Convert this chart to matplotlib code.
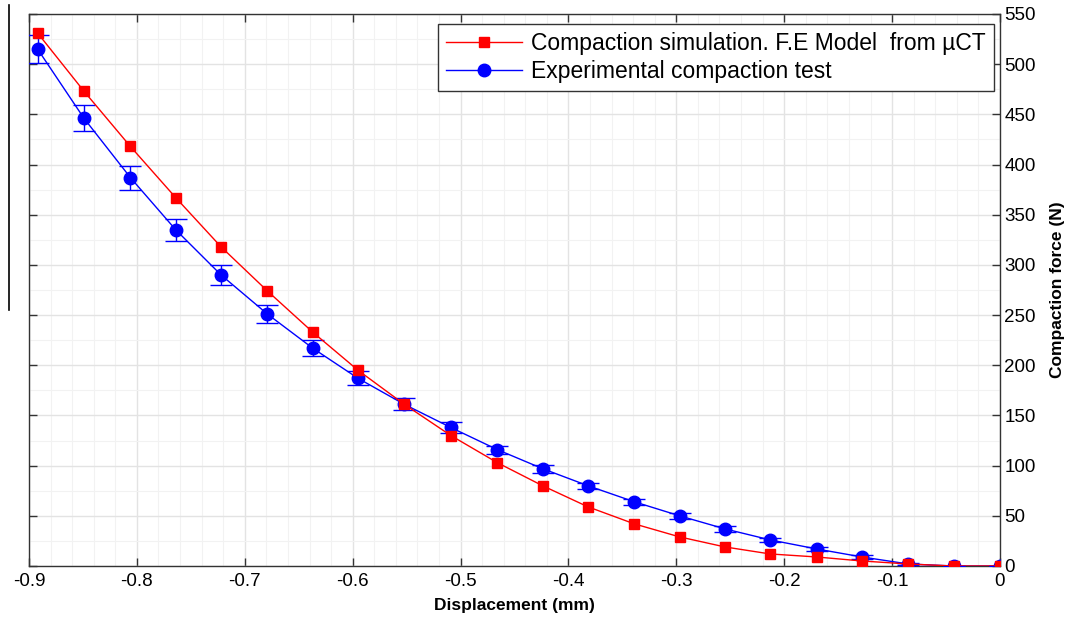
import numpy as np
import matplotlib
matplotlib.use("Agg")
import matplotlib.pyplot as plt
from matplotlib.ticker import MultipleLocator, AutoMinorLocator
from matplotlib.lines import Line2D

plt.rcParams['font.family'] = ['Liberation Sans', 'DejaVu Sans']

# displacement (mm)
disp = [-0.892, -0.849, -0.806, -0.764, -0.722, -0.679, -0.637, -0.595, -0.552, -0.509, -0.466,
        -0.424, -0.382, -0.339, -0.297, -0.255, -0.213, -0.170, -0.128, -0.085, -0.043, 0.0]
# F.E. model force (N)
sim_force = [531, 473, 418, 367, 318, 274, 233, 195, 161, 130, 103,
             80, 59, 42, 29, 19, 12, 9, 5, 2, 0, 0]
# experimental force (N) and error
exp_force = [515, 446, 387, 335, 290, 251, 217, 187, 161, 138, 116,
             97, 80, 64, 50, 37, 26, 17, 9, 2, 0, 0]
exp_err = [14, 13, 12, 11, 10, 9, 8, 7, 6, 5, 4,
           4, 3, 3, 3, 3, 2, 2, 2, 1, 0, 0]
xtick_labels = ['-0.9', '-0.8', '-0.7', '-0.6', '-0.5', '-0.4', '-0.3', '-0.2', '-0.1', '0']

fig = plt.figure(figsize=(10.7, 6.19), dpi=100)
ax = fig.add_axes([29/1070, 53/619, 971/1070, 552/619])

ax.errorbar(disp, exp_force, yerr=exp_err, fmt='o-', color='blue', markersize=9,
            linewidth=1, elinewidth=1, capsize=8, capthick=1, zorder=3)
l1, = ax.plot(disp, sim_force, 's-', color='red', markersize=7, linewidth=1, zorder=4,
              label='Compaction simulation. F.E Model  from \u00b5CT')
l2 = Line2D([], [], color='blue', marker='o', markersize=9, linewidth=1,
            label='Experimental compaction test')

ax.set_xlim(-0.9, 0)
ax.set_ylim(0, 550)
ax.yaxis.set_major_locator(MultipleLocator(50))
ax.xaxis.set_minor_locator(AutoMinorLocator(5))
ax.yaxis.set_minor_locator(AutoMinorLocator(2))
ax.set_xticks(np.arange(-0.9, 0.01, 0.1))
ax.set_xticklabels(xtick_labels)

ax.yaxis.tick_right()
ax.yaxis.set_label_position('right')
ax.tick_params(which='major', direction='in', top=True, left=True, right=True, bottom=True,
               length=6, width=1, labelsize=13.5, color='#333333')
ax.tick_params(which='minor', length=0)
ax.tick_params(axis='y', pad=3)
ax.tick_params(axis='x', pad=5)
ax.grid(True, which='major', color='#e3e3e3', linewidth=1)
ax.grid(True, which='minor', color='#f2f2f2', linewidth=0.8)
ax.set_axisbelow(True)
for s in ax.spines.values():
    s.set_color('#333333')
    s.set_linewidth(1)

ax.set_xlabel('Displacement (mm)', fontsize=12.5, fontweight='bold', labelpad=6)
ax.set_ylabel('Compaction force (N)', fontsize=12.5, fontweight='bold', labelpad=10)

leg = ax.legend([l1, l2], [l1.get_label(), l2.get_label()], loc='upper right',
                bbox_to_anchor=(0.9935, 0.982), fontsize=16.5, handlelength=3.3,
                borderpad=0.35, labelspacing=0.2, handletextpad=0.4, fancybox=False,
                framealpha=1, borderaxespad=0)
leg.get_frame().set_edgecolor('#333333')
leg.get_frame().set_linewidth(1)

# stray vertical line at the left of the picture
fig.add_artist(Line2D([9/1070, 9/1070], [1 - 5/619, 1 - 310/619], color='black', linewidth=1.2))

fig.savefig('out.png', dpi=100)
